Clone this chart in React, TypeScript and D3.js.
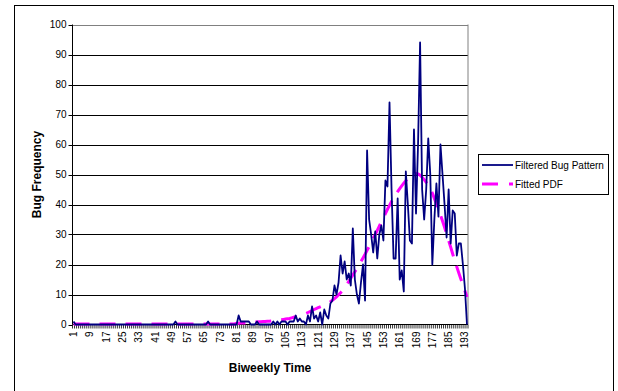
import React from "react";
import * as d3 from "d3";

const bugPattern: number[] = [
  1, 0, 0, 0, 0, 0, 0, 0, 0, 0,
  0, 0, 0, 0, 0, 0, 0, 0, 0, 0,
  0, 0, 0, 0, 0, 0, 0, 0, 0, 0,
  0, 0, 0, 0, 0, 0, 0, 0, 0, 0,
  0, 0, 0, 0, 0, 0, 0, 0, 0, 0,
  1, 0, 0, 0, 0, 0, 0, 0, 0, 0,
  0, 0, 0, 0, 0, 0, 1, 0, 0, 0,
  0, 0, 0, 0, 0, 0, 0, 0, 0, 0,
  0, 3, 1, 1, 1, 1, 1, 0, 0, 0,
  1, 0, 0, 0, 0, 0, 0, 0, 1, 0,
  1, 0, 1, 1, 1, 0, 1, 1, 1, 3,
  1, 2, 1, 1, 0, 3, 1, 6, 2, 3,
  1, 4, 0, 5, 3, 2, 7, 8, 13, 10,
  14, 23, 17, 21, 15, 17, 13, 32, 15, 10,
  7, 14, 20, 8, 58, 35, 30, 24, 31, 22,
  30, 33, 28, 48, 46, 74, 45, 22, 22, 42,
  15, 18, 11, 51, 40, 28, 27, 65, 37, 60,
  94, 45, 35, 45, 62, 50, 20, 35, 47, 36,
  60, 50, 40, 29, 45, 27, 38, 37, 23, 27,
  27, 20, 12, 0,
];

const fittedPdf: number[] = [
  0.2, 0.2, 0.2, 0.2, 0.2, 0.2, 0.2, 0.2, 0.2, 0.2,
  0.2, 0.2, 0.2, 0.2, 0.2, 0.2, 0.2, 0.2, 0.2, 0.2,
  0.2, 0.2, 0.2, 0.2, 0.2, 0.2, 0.2, 0.2, 0.2, 0.2,
  0.2, 0.2, 0.2, 0.2, 0.2, 0.2, 0.2, 0.2, 0.2, 0.2,
  0.2, 0.2, 0.2, 0.2, 0.2, 0.2, 0.2, 0.2, 0.2, 0.2,
  0.2, 0.2, 0.2, 0.2, 0.2, 0.2, 0.2, 0.2, 0.2, 0.2,
  0.2, 0.2, 0.2, 0.2, 0.2, 0.2, 0.2, 0.2, 0.2, 0.2,
  0.2, 0.2, 0.2, 0.2, 0.2, 0.2, 0.2, 0.2, 0.2, 0.2,
  0.4, 0.4, 0.5, 0.5, 0.5, 0.6, 0.6, 0.7, 0.7, 0.8,
  0.8, 0.9, 0.9, 1.0, 1.0, 1.1, 1.1, 1.2, 1.2, 1.3,
  1.4, 1.5, 1.6, 1.7, 1.8, 1.9, 2.0, 2.2, 2.4, 2.6,
  2.8, 3.0, 3.2, 3.4, 3.7, 4.0, 4.3, 4.6, 5.0, 5.3,
  5.6, 5.9, 6.2, 6.5, 6.8, 7.2, 7.6, 8.1, 8.6, 9.2,
  9.9, 10.6, 11.4, 12.3, 13.3, 14.3, 15.4, 16.5, 17.6, 18.7,
  19.8, 21.0, 22.2, 23.4, 24.7, 26.0, 27.3, 28.6, 30.0, 31.4,
  32.8, 34.2, 35.6, 37.0, 38.4, 39.7, 41.0, 42.2, 43.3, 44.3,
  45.3, 46.2, 47.1, 47.9, 48.6, 49.2, 49.7, 50.1, 50.3, 50.2,
  49.8, 49.1, 48.3, 47.4, 46.4, 45.3, 43.8, 42.0, 40.2, 38.3,
  36.5, 34.5, 32.4, 30.3, 28.0, 25.8, 23.5, 21.3, 19.2, 17.2,
  15.2, 13.2, 11.2, 9.2,
];

const categories: number[] = bugPattern.map((_, i) => i + 1);
const xTickLabels: number[] = [1, 9, 17, 25, 33, 41, 49, 57, 65, 73, 81, 89, 97, 105, 113, 121, 129, 137, 145, 153, 161, 169, 177, 185, 193];
const yTicks: number[] = [0, 10, 20, 30, 40, 50, 60, 70, 80, 90, 100];
const seriesNames: string[] = ["Filtered Bug Pattern", "Fitted PDF"];

const W = 618;
const H = 391;
const left = 72.5;
const right = 468;
const top = 24.5;
const bottom = 324.5;
const tickFont = "'Liberation Sans Narrow', 'Liberation Sans', Arial, sans-serif";
const font = "'Liberation Sans', Arial, sans-serif";

export default function App() {
  const N = categories.length;
  const x = d3.scaleLinear().domain([0.5, N + 0.5]).range([left, right]);
  const y = d3.scaleLinear().domain([0, 100]).range([bottom, top]);

  const line = d3
    .line<number>()
    .x((_, i) => x(categories[i]))
    .y((d) => y(d));

  const boundaries = d3.range(0.5, N + 1, 1);

  return (
    <div style={{ position: "fixed", left: 0, top: 0, width: W, height: H, background: "#fff" }}>
      <svg width={W} height={H} style={{ display: "block" }}>
        <rect x={0} y={0} width={W} height={H} fill="#fff" />
        {/* outer chart border */}
        <rect x={14.5} y={5.5} width={599} height={400} fill="none" stroke="#000" strokeWidth={1} />

        {/* gridlines */}
        {yTicks.map((t) =>
          t === 0 ? null : (
            <line
              key={"g" + t}
              x1={left}
              x2={right}
              y1={Math.round(y(t)) + 0.5}
              y2={Math.round(y(t)) + 0.5}
              stroke={t === 100 ? "#808080" : "#000"}
              strokeWidth={1}
            />
          )
        )}
        {/* plot area right border */}
        <line x1={right} x2={right} y1={top} y2={bottom} stroke="#808080" strokeWidth={1} />

        {/* y axis */}
        <line x1={left} x2={left} y1={top} y2={bottom} stroke="#000" strokeWidth={1} />
        {yTicks.map((t) => (
          <g key={"yt" + t}>
            <line x1={left - 4} x2={left} y1={Math.round(y(t)) + 0.5} y2={Math.round(y(t)) + 0.5} stroke="#000" />
            <text
              x={left - 6}
              y={y(t)}
              dy="0.35em"
              textAnchor="end"
              fontFamily={tickFont}
              fontSize={10}
              fill="#000"
            >
              {t}
            </text>
          </g>
        ))}

        {/* x axis */}
        <line x1={left} x2={right} y1={bottom} y2={bottom} stroke="#000" strokeWidth={1} />
        {boundaries.map((b) => (
          <line key={"xt" + b} x1={x(b)} x2={x(b)} y1={bottom} y2={bottom + 4} stroke="#000" strokeWidth={0.8} />
        ))}
        {xTickLabels.map((c) => (
          <text
            key={"xl" + c}
            transform={`translate(${x(c)},${bottom + 7}) rotate(-90)`}
            dy="0.35em"
            textAnchor="end"
            fontFamily={tickFont}
            fontSize={10}
            fill="#000"
          >
            {c}
          </text>
        ))}

        {/* series */}
        <path d={line(fittedPdf) || ""} fill="none" stroke="#ff00ff" strokeWidth={3} strokeDasharray="16 10" />
        <path d={line(bugPattern) || ""} fill="none" stroke="#000080" strokeWidth={1.8} strokeLinejoin="round" />

        {/* axis titles */}
        <text
          transform={`translate(41,${(top + bottom) / 2}) rotate(-90)`}
          textAnchor="middle"
          fontFamily={font}
          fontWeight="bold"
          fontSize={12}
          fill="#000"
        >
          Bug Frequency
        </text>
        <text x={270} y={372} textAnchor="middle" fontFamily={font} fontWeight="bold" fontSize={12} fill="#000">
          Biweekly Time
        </text>

        {/* legend */}
        <rect x={478.5} y={154.5} width={130} height={40} fill="#fff" stroke="#000" strokeWidth={1} />
        <line x1={482} x2={513} y1={165} y2={165} stroke="#000080" strokeWidth={1.8} />
        <text x={515} y={165} dy="0.35em" fontFamily={tickFont} fontSize={10} fill="#000">
          {seriesNames[0]}
        </text>
        <line x1={482} x2={513} y1={184} y2={184} stroke="#ff00ff" strokeWidth={3} strokeDasharray="16 11" />
        <text x={515} y={184} dy="0.35em" fontFamily={tickFont} fontSize={10} fill="#000">
          {seriesNames[1]}
        </text>
      </svg>
    </div>
  );
}
